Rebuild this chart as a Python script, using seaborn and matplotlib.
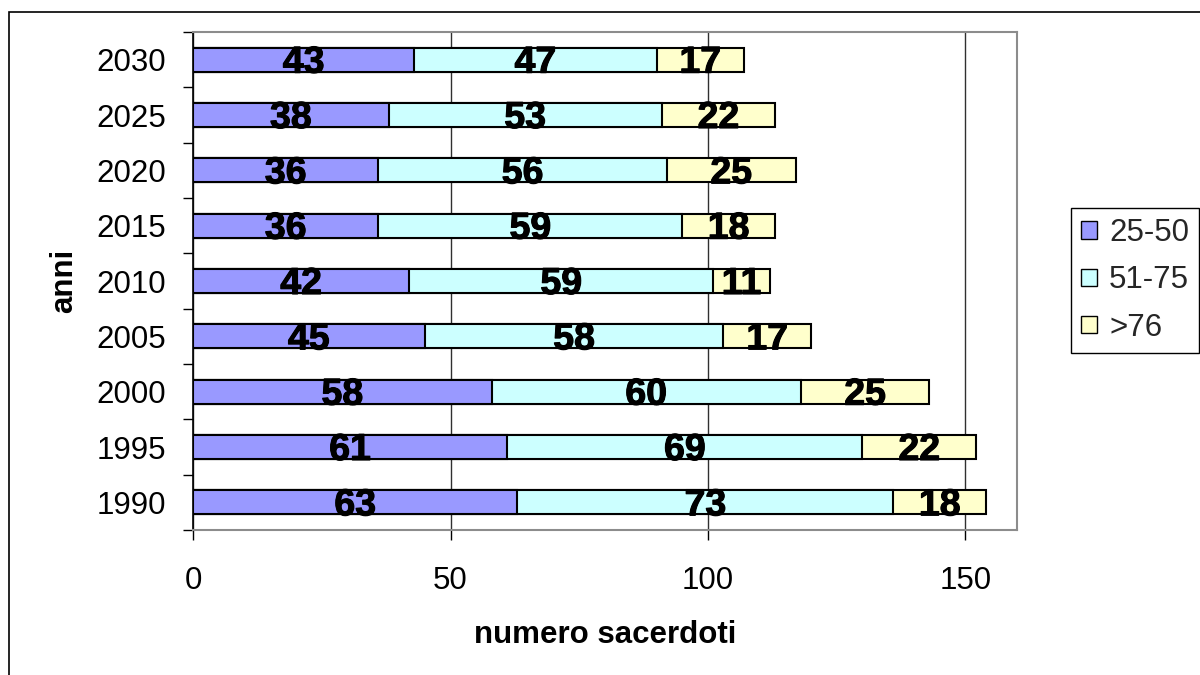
import matplotlib
matplotlib.use("Agg")
import matplotlib.pyplot as plt
import matplotlib.patheffects as pe
from matplotlib.patches import Patch, Rectangle
import numpy as np
import pandas as pd
import seaborn as sns

# Sacerdoti per fascia d'età, per anno (dall'alto verso il basso)
anni = ["2030", "2025", "2020", "2015", "2010", "2005", "2000", "1995", "1990"]
fascia_25_50 = [43, 38, 36, 36, 42, 45, 58, 61, 63]
fascia_51_75 = [47, 53, 56, 59, 59, 58, 60, 69, 73]
fascia_oltre_76 = [17, 22, 25, 18, 11, 17, 25, 22, 18]
fasce = ["25-50", "51-75", ">76"]
colori = ["#9999FF", "#CCFFFF", "#FFFFCC"]
x_ticks = [0, 50, 100, 150]

sns.set_theme(style="white")
plt.rcParams["font.family"] = ["Liberation Sans", "DejaVu Sans"]

df = pd.DataFrame({"anno": anni, "25-50": fascia_25_50,
                   "51-75": fascia_51_75, ">76": fascia_oltre_76})
cumul = df[fasce].cumsum(axis=1)

W, H = 1200, 675
fig = plt.figure(figsize=(W / 100, H / 100), dpi=100)
fig.patch.set_facecolor("white")
ax = fig.add_axes([193 / W, (H - 530) / H, (1017 - 193) / W, (530 - 32) / H])

# stacked bars: running totals drawn from the longest down
for fascia, colore in reversed(list(zip(fasce, colori))):
    sns.barplot(x=cumul[fascia], y=df["anno"], order=anni, orient="h",
                color=colore, saturation=1, width=0.43, edgecolor="black",
                linewidth=1.5, ax=ax, zorder=3)

# value labels centred in each segment
for i in range(len(anni)):
    start = 0
    for fascia in fasce:
        v = int(df.loc[i, fascia])
        ax.text(start + v / 2, i + 0.235, str(v), ha="center", va="baseline",
                fontsize=27, fontweight="bold", color="black", zorder=5,
                path_effects=[pe.withStroke(linewidth=0.8, foreground="black")])
        start += v

ax.set_xlim(0, 160)
ax.set_ylim(len(anni) - 0.5, -0.5)
ax.set_xticks(x_ticks)
ax.set_xticklabels([str(t) for t in x_ticks])
ax.set_axisbelow(True)
ax.xaxis.grid(True, color="#303030", linewidth=1)
ax.yaxis.grid(False)

ax.tick_params(axis="x", which="major", bottom=True, direction="out",
               length=7.2, width=1, color="black", pad=19, labelsize=22.5,
               labelcolor="black")
ax.tick_params(axis="y", which="major", left=False, length=0, pad=19.5,
               labelsize=22.5, labelcolor="black")
ax.set_yticks(np.arange(-0.5, len(anni), 1), minor=True)
ax.tick_params(axis="y", which="minor", left=True, direction="out",
               length=7.2, width=1, color="black")

for side in ["top", "right", "bottom"]:
    ax.spines[side].set_color("#8c8c8c")
    ax.spines[side].set_linewidth(1.5)
ax.spines["left"].set_color("black")
ax.spines["left"].set_linewidth(1.2)

ax.set_xlabel("numero sacerdoti", fontsize=22.5, fontweight="bold", color="black")
ax.xaxis.set_label_coords(0.5, (530 - 643) / 498)
ax.xaxis.label.set_va("baseline")

ax.set_ylabel("anni", fontsize=22.5, fontweight="bold", color="black")
ax.yaxis.label.set_rotation_mode("anchor")
ax.yaxis.label.set_ha("center")
ax.yaxis.label.set_va("baseline")
ax.yaxis.set_label_coords((72 - 193) / 824, 0.5)

handles = [Patch(facecolor=c, edgecolor="black", linewidth=1) for c in colori]
leg = fig.legend(handles, fasce, loc="upper left",
                 bbox_to_anchor=(1071 / W, 1 - 208 / H),
                 bbox_transform=fig.transFigure,
                 frameon=True, fancybox=False, shadow=False, framealpha=1,
                 edgecolor="black", fontsize=22.5, handlelength=0.49,
                 handleheight=0.49, handletextpad=0.4, labelspacing=0.55,
                 borderpad=0.33, borderaxespad=0)
leg.get_frame().set_linewidth(1.0)

# chart-area border
fig.patches.append(Rectangle((9 / W, -0.1), 1.2, 1 - 12 / H + 0.1,
                             transform=fig.transFigure, fill=False,
                             edgecolor="black", linewidth=1.2, zorder=0))

fig.savefig("out.png", dpi=100)
